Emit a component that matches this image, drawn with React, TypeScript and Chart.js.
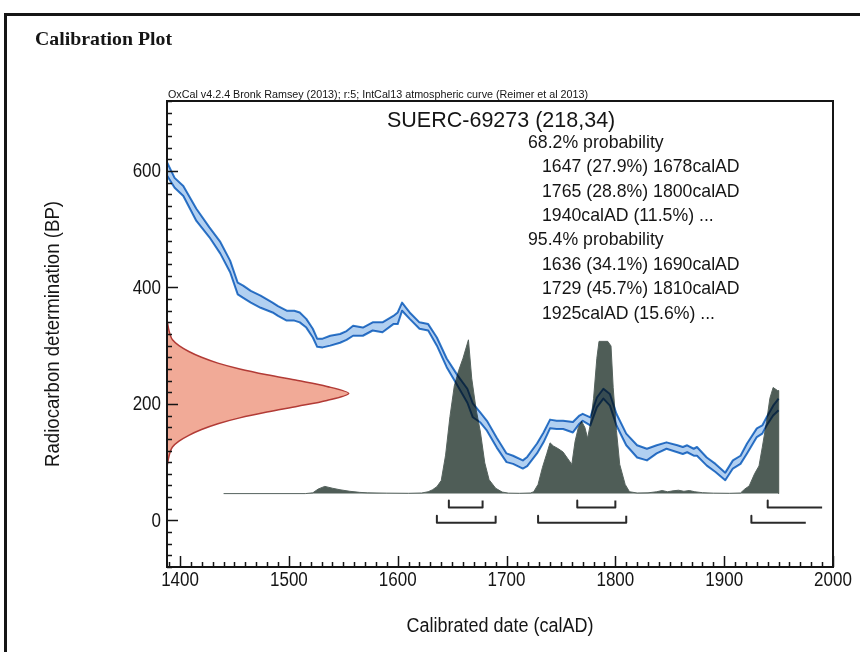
import React, { useEffect, useRef } from 'react';
import { Chart, registerables } from 'chart.js';

// ---------------- data ----------------
// IntCal13 calibration curve, 1-sigma band (upper / lower edge, BP)
const curveYears = [1388, 1395, 1403, 1415, 1427, 1437, 1446, 1453, 1458, 1465, 1474, 1485, 1490, 1498, 1505, 1510, 1516, 1522, 1526, 1531, 1538, 1547, 1553, 1559, 1568, 1577, 1586, 1596, 1600, 1604, 1611, 1620, 1628, 1636, 1645, 1655, 1664, 1669, 1676, 1682, 1691, 1700, 1706, 1715, 1719, 1728, 1734, 1740, 1746, 1752, 1761, 1767, 1770, 1777, 1783, 1789, 1795, 1801, 1810, 1820, 1829, 1838, 1847, 1857, 1862, 1866, 1872, 1875, 1884, 1892, 1901, 1908, 1915, 1921, 1930, 1935, 1939, 1945, 1950];
const curveUpper = [615, 588, 574, 535, 503, 478, 446, 408, 403, 394, 386, 374, 368, 360, 360, 357, 346, 329, 312, 312, 317, 320, 325, 334, 331, 340, 340, 351, 357, 374, 357, 340, 337, 314, 278, 249, 226, 201, 185, 171, 142, 115, 111, 103, 109, 132, 151, 173, 171, 171, 169, 180, 183, 177, 211, 226, 217, 183, 149, 129, 123, 129, 134, 129, 126, 129, 123, 126, 108, 97, 82, 103, 111, 132, 158, 163, 177, 197, 209];
const curveLower = [592, 571, 557, 514, 486, 458, 426, 388, 382, 374, 365, 357, 351, 343, 343, 340, 331, 314, 298, 297, 300, 305, 310, 317, 317, 326, 323, 337, 337, 360, 346, 329, 326, 300, 263, 231, 202, 177, 168, 154, 125, 100, 97, 89, 93, 115, 134, 158, 157, 157, 151, 166, 171, 163, 194, 209, 197, 163, 129, 108, 103, 115, 123, 117, 114, 117, 111, 111, 94, 83, 69, 89, 97, 115, 143, 149, 163, 180, 189];

// Calibrated date distribution (relative probability)
const distYears = [1440, 1515, 1522, 1527, 1533, 1540, 1547, 1556, 1565, 1572, 1590, 1610, 1622, 1628, 1632, 1636, 1640, 1644, 1648, 1652, 1656, 1660, 1665, 1668, 1672, 1676, 1680, 1684, 1690, 1696, 1702, 1712, 1722, 1725, 1729, 1733, 1737, 1740, 1743, 1748, 1752, 1756, 1760, 1763, 1766, 1769, 1772, 1774.5, 1777, 1780, 1783, 1785, 1793, 1796, 1798, 1801, 1804, 1809, 1813, 1820, 1830, 1838, 1843, 1848, 1853, 1858, 1863, 1868, 1873, 1880, 1890, 1905, 1915, 1919, 1923, 1928, 1932, 1935, 1939, 1942, 1945, 1949, 1950, 1950];
const distProb = [0, 0, 0.005, 0.03, 0.047, 0.035, 0.025, 0.015, 0.008, 0.005, 0.003, 0.002, 0.004, 0.012, 0.025, 0.045, 0.085, 0.25, 0.5, 0.7, 0.8, 0.88, 1.0, 0.75, 0.55, 0.4, 0.2, 0.09, 0.035, 0.01, 0.003, 0.002, 0.004, 0.012, 0.06, 0.17, 0.26, 0.33, 0.31, 0.29, 0.27, 0.23, 0.19, 0.34, 0.43, 0.47, 0.43, 0.36, 0.45, 0.62, 0.88, 0.99, 0.99, 0.96, 0.69, 0.41, 0.19, 0.06, 0.012, 0.004, 0.005, 0.012, 0.02, 0.012, 0.018, 0.022, 0.015, 0.02, 0.012, 0.006, 0.003, 0.002, 0.004, 0.03, 0.05, 0.13, 0.18, 0.3, 0.47, 0.62, 0.69, 0.67, 0.67, 0];

// Radiocarbon determination 218 ± 34 BP (relative probability)
const c14Bp = [345, 330, 320, 310, 300, 290, 280, 270, 260, 250, 240, 230, 218, 206, 196, 186, 176, 166, 156, 146, 136, 126, 116, 106, 92];
const c14Prob = [0, 0.008, 0.016, 0.03, 0.066, 0.12, 0.19, 0.28, 0.4, 0.55, 0.72, 0.88, 1.0, 0.88, 0.72, 0.55, 0.4, 0.28, 0.19, 0.12, 0.066, 0.03, 0.016, 0.008, 0];

// Probability ranges (calAD); open ranges run on past the curve
const range68From = [1647, 1765, 1940];
const range68To = [1678, 1800, 1990];
const range68Open = [false, false, true];
const range95From = [1636, 1729, 1925];
const range95To = [1690, 1810, 1975];
const range95Open = [false, false, true];

// Axis ticks
const xTickLabels = [1400, 1500, 1600, 1700, 1800, 1900, 2000];
const yTickLabels = [0, 200, 400, 600];

// Text
const sampleTitle = 'SUERC-69273 (218,34)';
const resultHeads = ['68.2% probability', '95.4% probability'];
const result68 = ['1647 (27.9%) 1678calAD', '1765 (28.8%) 1800calAD', '1940calAD (11.5%) ...'];
const result95 = ['1636 (34.1%) 1690calAD', '1729 (45.7%) 1810calAD', '1925calAD (15.6%) ...'];
const headerText = 'OxCal v4.2.4 Bronk Ramsey (2013); r:5; IntCal13 atmospheric curve (Reimer et al 2013)';
const xTitle = 'Calibrated date (calAD)';
const yTitle = 'Radiocarbon determination (BP)';

// ---------------- scale constants ----------------
const X_MIN = 1388;
const X_MAX = 2000;
const Y_MIN = -80;
const Y_MAX = 720;
const DIST_BASE = 46; // BP level of the calibrated distribution baseline
const DIST_HEIGHT = 264; // BP height of distribution maximum
const C14_SPAN = 167; // years spanned by the peak of the determination curve
const ROW68 = 22;
const ROW95 = -4;
const BRACKET_TICK = 12;

const SANS = '"Liberation Sans", Arial, Helvetica, sans-serif';

const blendPlugin = {
  id: 'bandBlend',
  beforeDatasetDraw(chart: any, args: any) {
    const ds: any = chart.data.datasets[args.index];
    if (ds && ds.blend) chart.ctx.globalCompositeOperation = 'multiply';
  },
  afterDatasetDraw(chart: any) {
    chart.ctx.globalCompositeOperation = 'source-over';
  },
};

Chart.register(blendPlugin as any, ...registerables);

function bracket(from: number, to: number, open: boolean, row: number) {
  const pts = [
    { x: from, y: row + BRACKET_TICK },
    { x: from, y: row },
    { x: to, y: row },
  ];
  if (!open) pts.push({ x: to, y: row + BRACKET_TICK });
  return pts;
}

// draw text squeezed horizontally (the reference uses a condensed face)
function squeezed(ctx: CanvasRenderingContext2D, text: string, x: number, y: number, sx: number) {
  ctx.save();
  ctx.translate(x, y);
  ctx.scale(sx, 1);
  ctx.fillText(text, 0, 0);
  ctx.restore();
}

function fitted(ctx: CanvasRenderingContext2D, text: string, x: number, y: number, width: number) {
  const w = ctx.measureText(text).width;
  squeezed(ctx, text, x, y, width / w);
}

const decorPlugin = {
  id: 'decor',
  beforeDraw(chart: any) {
    const ctx = chart.ctx;
    ctx.save();
    ctx.fillStyle = '#ffffff';
    ctx.fillRect(0, 0, chart.width, chart.height);
    ctx.fillStyle = '#151515';
    ctx.fillRect(4, 13, chart.width - 4, 3);
    ctx.fillRect(4, 13, 3, chart.height - 13);
    ctx.font = 'bold 19px "Liberation Serif", "Times New Roman", serif';
    ctx.textBaseline = 'middle';
    ctx.textAlign = 'left';
    fitted(ctx, 'Calibration Plot', 35, 40, 137);
    ctx.restore();
  },
  afterDraw(chart: any) {
    const ctx = chart.ctx;
    const area = chart.chartArea;
    const xs = chart.scales.x;
    const ys = chart.scales.y;
    ctx.save();
    ctx.strokeStyle = '#151515';
    ctx.lineWidth = 2;
    ctx.strokeRect(area.left, area.top, area.right - area.left, area.bottom - area.top);
    ctx.lineWidth = 1.5;
    ctx.beginPath();
    for (let v = Y_MIN; v <= Y_MAX; v += 20) {
      const py = Math.round(ys.getPixelForValue(v)) + 0.5;
      const len = v % 200 === 0 ? 11 : 5;
      ctx.moveTo(area.left, py);
      ctx.lineTo(area.left + len, py);
    }
    for (let yr = 1390; yr <= X_MAX; yr += 10) {
      const px = Math.round(xs.getPixelForValue(yr)) + 0.5;
      const len = yr % 100 === 0 ? 11 : 5;
      ctx.moveTo(px, area.bottom);
      ctx.lineTo(px, area.bottom - len);
    }
    ctx.stroke();

    ctx.fillStyle = '#151515';
    // tick labels from the scales
    ctx.font = '20px ' + SANS;
    ctx.textBaseline = 'middle';
    ctx.textAlign = 'center';
    xs.ticks.forEach((t: any) => {
      squeezed(ctx, String(t.value), xs.getPixelForValue(t.value), area.bottom + 13, 0.85);
    });
    ctx.textAlign = 'right';
    ys.ticks.forEach((t: any) => {
      squeezed(ctx, String(t.value), area.left - 6, ys.getPixelForValue(t.value) + 1, 0.85);
    });

    // header above the plot box
    ctx.font = '11px ' + SANS;
    ctx.textAlign = 'left';
    ctx.textBaseline = 'alphabetic';
    fitted(ctx, headerText, area.left + 1, area.top - 3, 420);

    // axis titles
    ctx.font = '20px ' + SANS;
    ctx.textAlign = 'center';
    ctx.textBaseline = 'middle';
    fitted(ctx, xTitle, (area.left + area.right) / 2, 626, 187);
    ctx.save();
    ctx.translate(53, (area.top + area.bottom) / 2);
    ctx.rotate(-Math.PI / 2);
    fitted(ctx, yTitle, 0, 0, 266);
    ctx.restore();

    // result text
    ctx.textAlign = 'left';
    ctx.font = '21.5px ' + SANS;
    ctx.fillText(sampleTitle, 387, 121);
    ctx.font = '17.7px ' + SANS;
    const lines: [string, number][] = [];
    lines.push([resultHeads[0], 528]);
    result68.forEach((t) => lines.push([t, 542]));
    lines.push([resultHeads[1], 528]);
    result95.forEach((t) => lines.push([t, 542]));
    lines.forEach(([t, x], i) => ctx.fillText(t, x, 143 + i * 24.4));
    ctx.restore();
  },
};

export default function App() {
  const ref = useRef<HTMLCanvasElement | null>(null);
  useEffect(() => {
    if (!ref.current) return;
    const blueLine = '#2f79c9';
    const datasets: any[] = [];
    datasets.push({
      label: 'calibrated',
      data: distYears.map((x, i) => ({ x, y: DIST_BASE + distProb[i] * DIST_HEIGHT })),
      borderColor: '#56635e',
      borderWidth: 1,
      backgroundColor: '#4f5d57',
      fill: { value: DIST_BASE },
      tension: 0,
      order: 5,
    });
    datasets.push({
      label: 'determination',
      data: c14Bp.map((y, i) => ({ x: X_MIN + c14Prob[i] * C14_SPAN, y })),
      borderColor: '#b23b36',
      borderWidth: 1.5,
      backgroundColor: '#f1aa97',
      fill: 'shape',
      tension: 0.3,
      order: 4,
    });
    datasets.push({
      label: 'curve upper',
      data: curveYears.map((x, i) => ({ x, y: curveUpper[i] })),
      borderColor: blueLine,
      borderWidth: 2,
      backgroundColor: '#b1d0f1',
      fill: '+1',
      tension: 0,
      blend: true,
      order: 2,
    });
    datasets.push({
      label: 'curve lower',
      data: curveYears.map((x, i) => ({ x, y: curveLower[i] })),
      borderColor: blueLine,
      borderWidth: 2,
      fill: false,
      tension: 0,
      blend: true,
      order: 1,
    });
    range68From.forEach((f, i) => {
      datasets.push({
        label: '68.2% range',
        data: bracket(f, range68To[i], range68Open[i], ROW68),
        borderColor: '#2a2a2a',
        borderWidth: 2,
        fill: false,
        tension: 0,
        order: 0,
      });
    });
    range95From.forEach((f, i) => {
      datasets.push({
        label: '95.4% range',
        data: bracket(f, range95To[i], range95Open[i], ROW95),
        borderColor: '#2a2a2a',
        borderWidth: 2,
        fill: false,
        tension: 0,
        order: 0,
      });
    });

    const chart = new Chart(ref.current, {
      type: 'line',
      data: { datasets },
      options: {
        animation: false,
        responsive: false,
        devicePixelRatio: 1,
        layout: { padding: { left: 0, right: 27, top: 101, bottom: 0 } },
        elements: { point: { radius: 0, hoverRadius: 0 }, line: { borderJoinStyle: 'round' } },
        plugins: { legend: { display: false }, tooltip: { enabled: false } },
        scales: {
          x: {
            type: 'linear',
            min: X_MIN,
            max: X_MAX,
            afterFit: (s: any) => { s.height = 85; },
            afterBuildTicks: (s: any) => { s.ticks = xTickLabels.map((v) => ({ value: v })); },
            ticks: { display: false },
            grid: { display: false, drawTicks: false },
            border: { display: false },
          },
          y: {
            type: 'linear',
            min: Y_MIN,
            max: Y_MAX,
            afterFit: (s: any) => { s.width = 167; },
            afterBuildTicks: (s: any) => { s.ticks = yTickLabels.map((v) => ({ value: v })); },
            ticks: { display: false },
            grid: { display: false, drawTicks: false },
            border: { display: false },
          },
        },
      },
      plugins: [decorPlugin],
    } as any);
    return () => chart.destroy();
  }, []);

  return (
    <div style={{ position: 'absolute', left: 0, top: 0, width: 860, height: 652, background: '#fff' }}>
      <canvas ref={ref} width={860} height={652} style={{ display: 'block' }} />
    </div>
  );
}
